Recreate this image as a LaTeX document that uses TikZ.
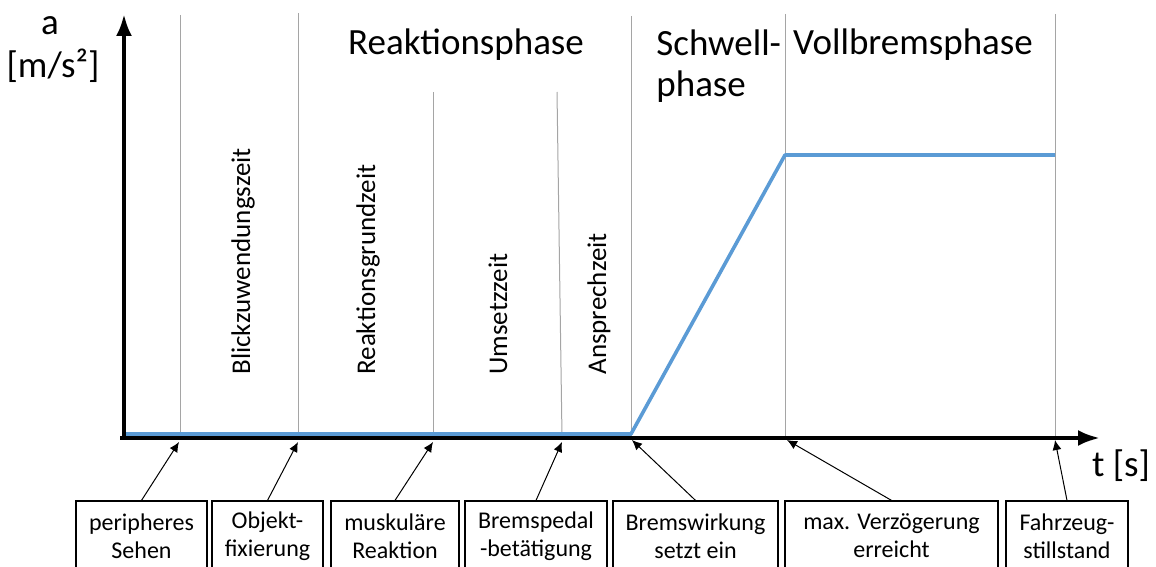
\documentclass[tikz,border=0pt]{standalone}
\usepackage{fontspec}
\setmainfont{Carlito}
\usepackage{xcolor}
\usetikzlibrary{arrows.meta}
\definecolor{curveblue}{RGB}{91,155,213}
\definecolor{phasegray}{RGB}{165,165,165}

\begin{document}
\begin{tikzpicture}[x=0.5pt,y=-0.5pt,
	phase/.style={draw=phasegray,line width=0.5pt},
	axis/.style={line width=2pt,-{Latex[length=11pt,width=8pt]}},
	pointer/.style={line width=0.5pt,-{Latex[length=5pt,width=4.5pt]}},
	event/.style={draw,line width=0.6pt,minimum height=35pt,inner sep=1pt,align=center,font=\fontsize{12}{14}\selectfont},
	big/.style={font=\fontsize{18.5}{20.5}\selectfont},
	span/.style={rotate=90,anchor=west,inner sep=0pt,font=\fontsize{13.5}{16}\selectfont}]
	\clip (0,0) rectangle (1156,567);
	% phase borders
	\draw[phase] (180,15) -- (180,437);
	\draw[phase] (298,13) -- (298,437);
	\draw[phase] (433,92) -- (433,437);
	\draw[phase] (557,92) -- (562,437);
	\draw[phase] (631,16) -- (631,437);
	\draw[phase] (785,14) -- (785,437);
	\draw[phase] (1055,14) -- (1055,437);
	% axes and curve
	\coordinate (O) at (124,438);
	\coordinate (ytop) at (124,14);
	\coordinate (xend) at (1100,438);
	\draw[axis] (O) -- (ytop);
	\draw[axis] (120,438) -- (xend);
	\draw[curveblue,line width=1.8pt,line join=round] (126,434) -- (631,434) -- (785,155) -- (1055,155);
	\node[big] (acc) at (50,26) {a};
	\node[big] (unit) at (53,66) {[m/s²]};
	\node[big] (time) at (1121,466) {t [s]};
	\node[big] (react) at (466,45) {Reaktionsphase};
	\node[big,align=left,anchor=west,inner sep=0pt] (swell) at (656,66) {Schwell-\\phase};
	\node[big] (full) at (913,45) {Vollbremsphase};
	% durations
	\node[span] (blick) at (243,375) {Blickzuwendungszeit};
	\node[span] (grund) at (368,375) {Reaktionsgrundzeit};
	\node[span] (umsetz) at (498,375) {Umsetzzeit};
	\node[span] (ansprech) at (599,375) {Ansprechzeit};
	% events
	\node[event,minimum width=65.5pt] (see) at (141.5,536) {peripheres\\Sehen};
	\node[event,minimum width=55.5pt] (fix) at (267.5,536) {Objekt-\\fixierung};
	\node[event,minimum width=64pt] (muscle) at (395,536) {muskuläre\\Reaktion};
	\node[event,minimum width=71pt] (pedal) at (536,536) {Bremspedal\\-betätigung};
	\node[event,minimum width=82.5pt] (effect) at (695.5,536) {Bremswirkung\\setzt ein};
	\node[event,minimum width=106.5pt] (decel) at (891.5,536) {max. Verzögerung\\erreicht};
	\node[event,minimum width=61pt] (stop) at (1067,536) {Fahrzeug-\\stillstand};
	\coordinate (t1) at (179,442);
	\coordinate (t2) at (298,442);
	\coordinate (t3) at (433,442);
	\coordinate (t4) at (562,442);
	\coordinate (t5) at (632,440);
	\coordinate (t6) at (787,440);
	\coordinate (t7) at (1055,440);
	\draw[pointer] (see.north) -- (t1);
	\draw[pointer] (fix.north) -- (t2);
	\draw[pointer] (muscle.north) -- (t3);
	\draw[pointer] (pedal.north) -- (t4);
	\draw[pointer] (effect.north) -- (t5);
	\draw[pointer] (decel.north) -- (t6);
	\draw[pointer] (stop.north) -- (t7);
\end{tikzpicture}
\end{document}
